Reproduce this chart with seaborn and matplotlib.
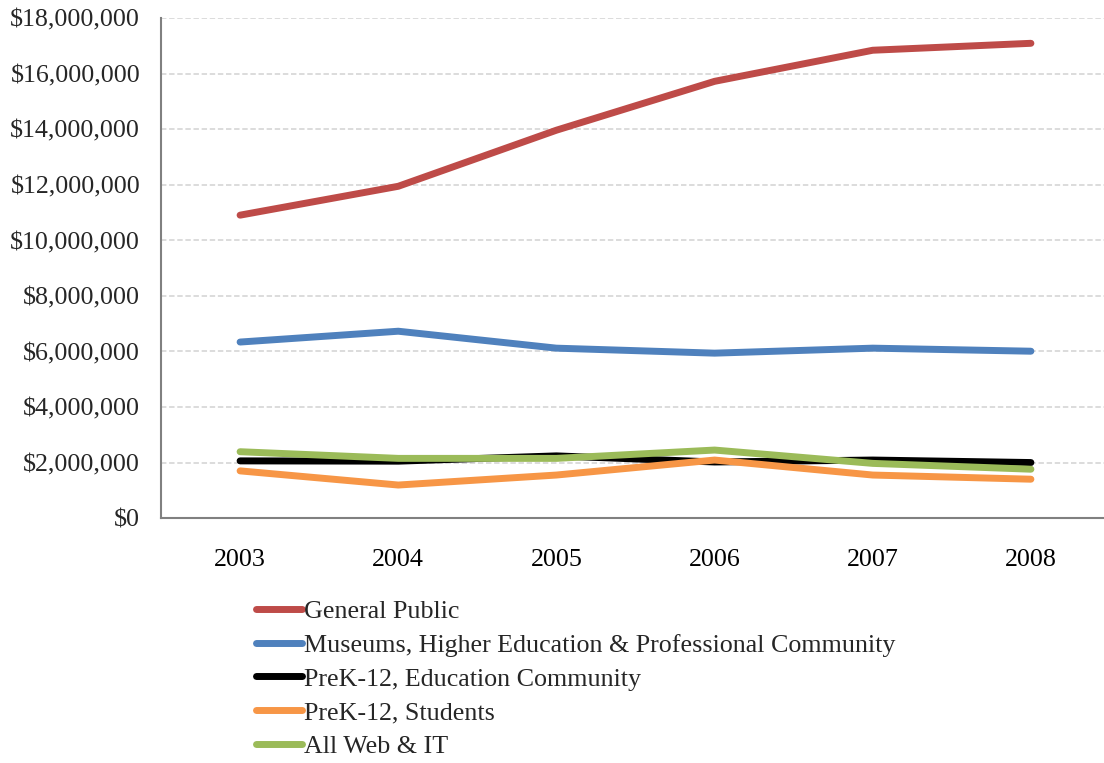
import matplotlib
matplotlib.use("Agg")
import matplotlib.pyplot as plt
import matplotlib.ticker as mticker
import seaborn as sns
import pandas as pd

years = ["2003", "2004", "2005", "2006", "2007", "2008"]
general_public = [10.91e6, 11.95e6, 13.97e6, 15.73e6, 16.85e6, 17.10e6]
museums = [6.34e6, 6.73e6, 6.12e6, 5.94e6, 6.12e6, 6.01e6]
prek12_edu = [2.06e6, 2.05e6, 2.24e6, 2.02e6, 2.09e6, 2.00e6]
prek12_students = [1.70e6, 1.19e6, 1.55e6, 2.09e6, 1.55e6, 1.40e6]
all_web_it = [2.39e6, 2.15e6, 2.15e6, 2.45e6, 1.97e6, 1.76e6]

series_names = [
    "General Public",
    "Museums, Higher Education & Professional Community",
    "PreK-12, Education Community",
    "PreK-12, Students",
    "All Web & IT",
]
series_values = [general_public, museums, prek12_edu, prek12_students, all_web_it]
colors = ["#BE4B48", "#4F81BD", "#000000", "#F79646", "#9BBB59"]

rows = []
for name, vals in zip(series_names, series_values):
    for i, (y, v) in enumerate(zip(years, vals)):
        rows.append({"idx": i, "year": y, "value": v, "series": name})
df = pd.DataFrame(rows)

sns.set_style("white")
plt.rcParams["font.family"] = ["Liberation Serif", "DejaVu Serif"]
FS = 18.7
LW = 5.0

fig = plt.figure(figsize=(11.04, 7.63), dpi=100)
left_px, right_px = 161, 1110
ax = fig.add_axes([left_px / 1104, 0.321, (right_px - left_px) / 1104, 0.655])

sns.lineplot(data=df, x="idx", y="value", hue="series", hue_order=series_names,
             palette=colors, linewidth=LW, ax=ax, legend=True,
             solid_capstyle="round")

ax.set_xlim(-0.5, 5.5)
ax.set_ylim(0, 18e6)
ax.set_yticks([i * 2e6 for i in range(10)])
ax.yaxis.set_major_formatter(mticker.FuncFormatter(lambda v, p: "${:,.0f}".format(v)))
ax.set_xticks(range(len(years)))
ax.set_xticklabels(years)
ax.set_xticks([i - 0.5 for i in range(len(years) + 1)], minor=True)
ax.tick_params(axis="x", which="major", length=0, pad=22, labelsize=FS, colors="black")
ax.tick_params(axis="x", which="minor", length=6, width=1.5, color="#808080", direction="out")
ax.tick_params(axis="y", which="major", length=6, width=1.5, color="#808080", direction="out",
               labelsize=FS, pad=9)
ax.set_xlabel("")
ax.set_ylabel("")

ax.grid(axis="y", color="#D9D9D9", linestyle=(0, (3, 1.5)), linewidth=1.3)
ax.grid(axis="x", visible=False)
ax.set_axisbelow(True)
for s in ["top", "right"]:
    ax.spines[s].set_visible(False)
for s in ["left", "bottom"]:
    ax.spines[s].set_color("#808080")
    ax.spines[s].set_linewidth(1.5)

handles, labels = ax.get_legend_handles_labels()
ax.legend_.remove()
for h in handles:
    h.set_linewidth(LW)
    h.set_solid_capstyle("round")
fig.legend(handles, labels, loc="upper left", bbox_to_anchor=(0.232, 0.214),
           frameon=False, fontsize=FS, handlelength=1.75, handletextpad=0.1,
           labelspacing=0.41, borderpad=0, borderaxespad=0)

fig.savefig("out.png", dpi=100)
